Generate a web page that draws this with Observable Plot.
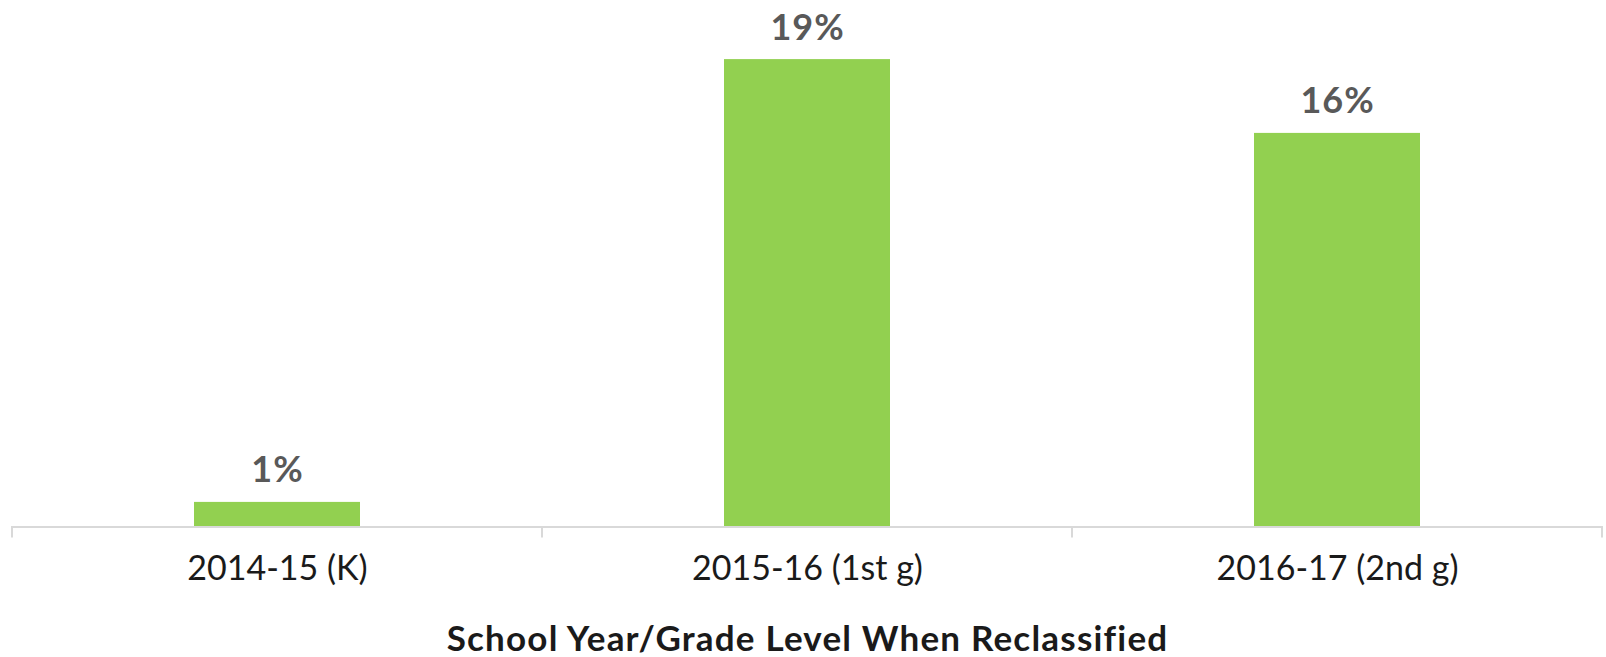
<!DOCTYPE html>
<html>
<head>
<meta charset="utf-8">
<script src="https://cdn.jsdelivr.net/npm/d3@7"></script>
<script src="https://cdn.jsdelivr.net/npm/@observablehq/plot@0.6"></script>
<style>
  html, body { margin: 0; padding: 0; background: #fff; }
  #chart svg { display: block; }
</style>
</head>
<body>
<div id="chart"></div>
<script>
const categories = ["2014-15 (K)", "2015-16 (1st g)", "2016-17 (2nd g)"];
const values = [1, 19, 16];
const valueLabels = ["1%", "19%", "16%"];
const axisTitle = "School Year/Grade Level When Reclassified";

const data = categories.map((c, i) => ({cat: c, value: values[i], label: valueLabels[i]}));

const W = 1606, H = 657;
const fontFam = "Lato, 'Open Sans', sans-serif";

const chart = Plot.plot({
  width: W,
  height: H,
  marginLeft: 11,
  marginRight: 3,
  marginTop: 34.5,
  marginBottom: 130.5,
  style: {fontFamily: fontFam, background: "#fff", overflow: "visible"},
  x: {domain: categories, padding: 0},
  y: {domain: [0, 20], axis: null},
  marks: [
    Plot.barY(data, {x: "cat", y: "value", fill: "#92D050", insetLeft: 182, insetRight: 182}),
    Plot.ruleY([0], {stroke: "#d9d9d9", strokeWidth: 2}),
    Plot.text(data, {x: "cat", y: "value", text: "label", lineAnchor: "bottom", dy: -20,
      fill: "#595959", fontSize: 36, fontWeight: "bold", className: "vlabel"}),
    Plot.axisX({tickSize: 0, tickPadding: 29, fontSize: 34, label: null, color: "#1a1a1a"}),
    Plot.text([axisTitle], {frameAnchor: "bottom", lineAnchor: "bottom", dy: 124,
      fill: "#1a1a1a", fontSize: 35, fontWeight: "bold", className: "xtitle"})
  ]
});

d3.select(chart).selectAll(".xtitle text").attr("letter-spacing", 1.2);
d3.select(chart).selectAll(".vlabel text").attr("letter-spacing", 1);

// band-boundary tick marks below the axis line
const xs = chart.scale("x");
const bw = xs.bandwidth;
const yAxis = chart.scale("y").apply(0);
const bounds = categories.map(c => xs.apply(c)).concat([xs.apply(categories[categories.length - 1]) + bw]);
d3.select(chart).append("g")
  .selectAll("line")
  .data(bounds)
  .join("line")
  .attr("x1", d => d).attr("x2", d => d)
  .attr("y1", yAxis).attr("y2", yAxis + 11)
  .attr("stroke", "#d9d9d9").attr("stroke-width", 2);

document.getElementById("chart").appendChild(chart);
</script>
</body>
</html>
